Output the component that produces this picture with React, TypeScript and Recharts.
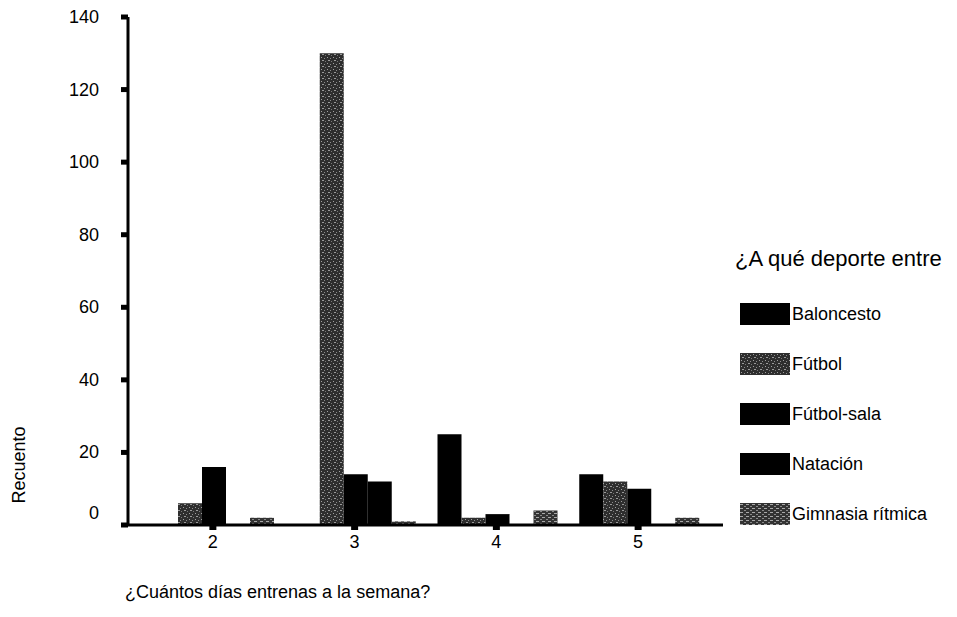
import React from 'react'
import { Bar, BarChart, Legend, XAxis, YAxis } from 'recharts'

const categories = ['2', '3', '4', '5']
const baloncesto = [0, 0, 25, 14]
const futbol = [6, 130, 2, 12]
const futbolSala = [16, 14, 3, 10]
const natacion = [0, 12, 0, 0]
const gimnasia = [2, 1, 4, 2]
const yTicks = [0, 20, 40, 60, 80, 100, 120, 140]

const seriesNames = ['Baloncesto', 'Fútbol', 'Fútbol-sala', 'Natación', 'Gimnasia rítmica']
const seriesFills = ['#000', 'url(#stipple1)', '#000', '#000', 'url(#stipple2)']

const data = categories.map((name, i) => ({
  name,
  b: baloncesto[i],
  f: futbol[i],
  fs: futbolSala[i],
  n: natacion[i],
  g: gimnasia[i],
}))
const keys = ['b', 'f', 'fs', 'n', 'g']

const font = '"Liberation Sans", Arial, sans-serif'

function YTick(props: any) {
  const { x, y, payload } = props
  // the 0 label sits a bit above its tick in the original
  const shift = payload.value === 0 ? -12 : 0
  return (
    <text x={x} y={y + shift} textAnchor="end" dominantBaseline="central"
      fontSize={18} fontFamily={font} fill="#000">
      {payload.value}
    </text>
  )
}

function LegendBox() {
  return (
    <div style={{ fontFamily: font, color: '#000' }}>
      <div style={{ fontSize: 22, height: 26, lineHeight: '26px', whiteSpace: 'nowrap' }}>
        ¿A qué deporte entre
      </div>
      <div style={{ marginTop: 17 }}>
        {seriesNames.map((s, i) => (
          <div key={s} style={{ height: 50, display: 'flex', alignItems: 'center' }}>
            <svg width={50} height={22} style={{ marginLeft: 5, display: 'block' }}>
              <rect width={50} height={22} fill={seriesFills[i]} />
            </svg>
            <span style={{ fontSize: 18, marginLeft: 2, whiteSpace: 'nowrap' }}>{s}</span>
          </div>
        ))}
      </div>
    </div>
  )
}

export default function App() {
  return (
    <div style={{ position: 'relative', width: 949, height: 609 }}>
      <BarChart width={949} height={609} data={data}
        margin={{ top: 9, right: 234, bottom: 62, left: 0 }}
        barCategoryGap={12} barGap={0}>
        <defs>
          <pattern id="stipple1" width="6" height="6" patternUnits="userSpaceOnUse">
            <rect width="6" height="6" fill="#2e2e2e" />
            <rect x="1" y="1" width="1" height="1" fill="#a0a0a0" />
            <rect x="4" y="2" width="1" height="1" fill="#8c8c8c" />
            <rect x="2" y="4" width="2" height="1" fill="#9a9a9a" />
            <rect x="5" y="5" width="1" height="1" fill="#777" />
          </pattern>
          <pattern id="stipple2" width="6" height="4" patternUnits="userSpaceOnUse">
            <rect width="6" height="4" fill="#333" />
            <rect x="0" y="1" width="3" height="1" fill="#a8a8a8" />
            <rect x="4" y="3" width="2" height="1" fill="#8a8a8a" />
          </pattern>
        </defs>
        <XAxis dataKey="name" height={30} padding={{ left: 14, right: 14 }}
          axisLine={{ stroke: '#000', strokeWidth: 3 }}
          tickLine={{ stroke: '#000', strokeWidth: 7 }} tickSize={5} tickMargin={5}
          tick={{ fontSize: 18, fontFamily: font, fill: '#000' }}
          label={({ viewBox }: any) => (
            <text x={viewBox.x - 3} y={viewBox.y + 73} fontSize={18} fontFamily={font} fill="#000">
              ¿Cuántos días entrenas a la semana?
            </text>
          )} />
        <XAxis xAxisId="top" orientation="top" height={0} tick={false} tickLine={false}
          axisLine={{ stroke: '#000', strokeWidth: 2.5 }} />
        <YAxis width={120} domain={[0, 140]} ticks={yTicks} interval={0}
          axisLine={{ stroke: '#000', strokeWidth: 3 }}
          tickLine={{ stroke: '#000', strokeWidth: 5 }} tickSize={7} tickMargin={22}
          tick={<YTick />}
          label={({ viewBox }: any) => (
            <text x={11} y={viewBox.y + 448} transform={`rotate(-90, 11, ${viewBox.y + 448})`}
              textAnchor="middle" dominantBaseline="central" fontSize={18} fontFamily={font} fill="#000">
              Recuento
            </text>
          )} />
        <YAxis yAxisId="right" orientation="right" width={0} domain={[0, 140]}
          tick={false} tickLine={false} axisLine={{ stroke: '#000', strokeWidth: 2.5 }} />
        {keys.map((k, i) => (
          <Bar key={k} dataKey={k} name={seriesNames[i]} fill={seriesFills[i]} isAnimationActive={false} />
        ))}
        <Legend layout="vertical" align="center" verticalAlign="middle"
          wrapperStyle={{ left: 727, top: 238, width: 222 }}
          content={() => <LegendBox />} />
      </BarChart>
    </div>
  )
}
